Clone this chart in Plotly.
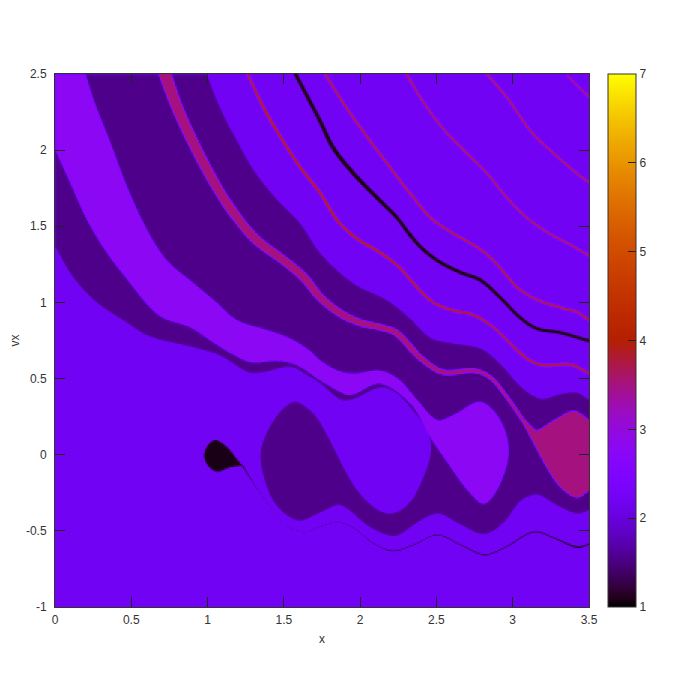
import math
import numpy as np
import plotly.graph_objects as go

# Axis ticks and labels
X_TICKS = [0, 0.5, 1, 1.5, 2, 2.5, 3, 3.5]
X_LABELS = ["0", "0.5", "1", "1.5", "2", "2.5", "3", "3.5"]
Y_TICKS = [-1, -0.5, 0, 0.5, 1, 1.5, 2, 2.5]
Y_LABELS = ["-1", "-0.5", "0", "0.5", "1", "1.5", "2", "2.5"]
CB_TICKS = [1, 2, 3, 4, 5, 6, 7]

# Region levels (z values)
Z_BACK, Z_DARK, Z_LIGHT, Z_MAGENTA, Z_RED, Z_BLACK = 2.2, 1.55, 2.8, 3.5, 4.0, 1.08

# Regions as (x, vx) boundaries
DARK_REGION = [(0.995, 2.5), (1.06, 2.33), (1.165, 2.11), (1.30, 1.87), (1.455, 1.675), (1.605, 1.52),
               (1.737, 1.325), (1.95, 1.13), (2.17, 1.02), (2.30, 0.92), (2.457, 0.77), (2.60, 0.735), (2.785, 0.70),
               (2.915, 0.60), (3.05, 0.45), (3.18, 0.37), (3.31, 0.40), (3.42, 0.41), (3.5, 0.36), (3.5, -0.36),
               (3.42, -0.385), (3.27, -0.32), (3.16, -0.26), (3.05, -0.30), (2.94, -0.44), (2.81, -0.52),
               (2.66, -0.46), (2.51, -0.385), (2.39, -0.43), (2.23, -0.53), (2.065, -0.475), (1.87, -0.33),
               (1.74, -0.375), (1.605, -0.43), (1.495, -0.38), (1.40, -0.25), (1.343, 0.01), (1.43, 0.23),
               (1.56, 0.35), (1.66, 0.30), (1.737, 0.21), (1.95, -0.19), (2.085, -0.34), (2.195, -0.385), (2.305, -0.33),
               (2.39, -0.19), (2.457, 0.01), (2.44, 0.145), (2.325, 0.315), (2.24, 0.405), (2.13, 0.445),
               (1.955, 0.37), (1.87, 0.365), (1.737, 0.47), (1.65, 0.525), (1.54, 0.58), (1.36, 0.545),
               (1.26, 0.545), (1.08, 0.655), (0.90, 0.71), (0.62, 0.78), (0.445, 0.885), (0.25, 1.02), (0.10, 1.19),
               (0.0, 1.365), (0.0, 2.5)]
LIGHT_REGION = [(0.0, 2.5), (0.197, 2.5), (0.25, 2.33), (0.36, 2.05), (0.47, 1.76), (0.60, 1.48), (0.73, 1.28),
                (0.905, 1.13), (1.06, 1.0), (1.19, 0.885), (1.39, 0.82), (1.54, 0.765), (1.66, 0.69), (1.737, 0.62),
                (1.85, 0.555), (1.955, 0.535), (2.13, 0.555), (2.26, 0.49), (2.37, 0.36), (2.50, 0.23), (2.61, 0.265),
                (2.785, 0.35), (2.915, 0.23), (2.97, 0.03), (2.915, -0.185), (2.81, -0.32), (2.70, -0.23),
                (2.57, -0.05), (2.457, 0.115), (2.325, 0.34), (2.13, 0.47), (1.955, 0.40), (1.90, 0.40), (1.737, 0.49),
                (1.585, 0.59), (1.455, 0.62), (1.28, 0.61), (1.15, 0.67), (1.015, 0.755), (0.885, 0.84), (0.71, 0.90),
                (0.62, 0.97), (0.49, 1.13), (0.34, 1.325), (0.21, 1.54), (0.10, 1.78), (0.0, 2.0)]
MAGENTA_REGION = [(3.065, 0.21), (3.13, 0.165), (3.165, 0.165), (3.27, 0.23), (3.40, 0.29), (3.5, 0.23), (3.5, -0.23),
                  (3.42, -0.28), (3.31, -0.21), (3.22, -0.08), (3.115, 0.115)]
BLACK_BLOB = [(1.05, 0.10), (1.13, 0.05), (1.18, -0.015), (1.225, -0.07), (1.15, -0.08), (1.06, -0.11), (1.0, -0.07),
              (0.975, -0.005), (0.995, 0.06)]
# Points that stay sharp when a boundary is drawn: plot-edge corners
SHARP = {(0.995, 2.5), (3.5, 0.36), (3.5, -0.36), (0.0, 1.365), (0.0, 2.5), (0.197, 2.5), (0.0, 2.0),
         (3.5, 0.23), (3.5, -0.23), (1.225, -0.07), (3.065, 0.21)}

# Curves as (x, vx, half width in data units)
MAGENTA_BAND = [(0.72, 2.5, .04), (0.80, 2.28, .036), (0.93, 2.0, .034), (1.06, 1.76, .032), (1.19, 1.56, .03),
                (1.32, 1.41, .03), (1.495, 1.28, .028), (1.625, 1.17, .028), (1.737, 1.035, .025), (1.87, 0.93, .024),
                (2.0, 0.87, .022), (2.13, 0.84, .02), (2.24, 0.80, .02), (2.39, 0.64, .018), (2.54, 0.545, .016),
                (2.74, 0.555, .014), (2.85, 0.51, .012), (2.96, 0.38, .011), (3.065, 0.23, .012), (3.13, 0.15, .02)]
BLACK_LINE = [(1.575, 2.5, .012), (1.737, 2.19, .013), (1.82, 2.02, .014), (1.955, 1.85, .014), (2.11, 1.69, .013),
              (2.24, 1.56, .012), (2.37, 1.39, .012), (2.50, 1.28, .012), (2.655, 1.20, .012), (2.785, 1.15, .012),
              (2.915, 1.035, .011), (3.05, 0.90, .011), (3.16, 0.83, .011), (3.31, 0.805, .011), (3.5, 0.75, .011)]
RED_LINE_1 = [(1.26, 2.5, .007), (1.365, 2.28, .009), (1.475, 2.09, .009), (1.605, 1.89, .009), (1.737, 1.72, .009),
              (1.85, 1.54, .009), (1.98, 1.42, .009), (2.13, 1.33, .009), (2.26, 1.23, .008), (2.37, 1.10, .008),
              (2.48, 1.0, .008), (2.61, 0.95, .008), (2.74, 0.92, .008), (2.87, 0.84, .007), (2.96, 0.755, .007),
              (3.09, 0.635, .008), (3.2, 0.59, .008), (3.375, 0.595, .008), (3.5, 0.535, .007)]
RED_LINE_2 = [(1.77, 2.5, .007), (1.89, 2.31, .007), (2.045, 2.09, .007), (2.195, 1.89, .007), (2.325, 1.72, .007),
              (2.457, 1.56, .007), (2.61, 1.455, .007), (2.765, 1.365, .007), (2.87, 1.28, .007), (3.03, 1.10, .007),
              (3.16, 1.02, .007), (3.31, 0.97, .007), (3.42, 0.94, .007), (3.5, 0.885, .007)]
RED_LINE_3 = [(2.305, 2.5, .006), (2.39, 2.35, .006), (2.54, 2.145, .006), (2.70, 1.98, .006), (2.83, 1.85, .006),
              (2.96, 1.69, .006), (3.09, 1.56, .006), (3.24, 1.455, .006), (3.39, 1.375, .006), (3.5, 1.31, .006)]
RED_LINE_4 = [(2.83, 2.5, .006), (2.96, 2.35, .006), (3.115, 2.13, .006), (3.27, 1.98, .006), (3.42, 1.85, .006),
              (3.5, 1.79, .006)]
RED_LINE_5 = [(3.36, 2.49, .005), (3.5, 2.35, .005)]
BLACK_TAIL = [(1.225, -0.07, .005), (1.30, -0.19, .001), (1.39, -0.32, -.002), (1.495, -0.45, -.002), (1.625, -0.505, -.001),
              (1.737, -0.47, -.001), (1.85, -0.44, 0), (1.955, -0.48, 0), (2.085, -0.58, .001), (2.215, -0.63, .003),
              (2.345, -0.59, .002), (2.50, -0.525, .002), (2.655, -0.59, .003), (2.81, -0.655, .003), (2.94, -0.61, .003),
              (3.135, -0.505, .004), (3.27, -0.545, .004), (3.42, -0.605, .006), (3.5, -0.585, .004)]

NX, NY = 356, 356
x = np.linspace(0, 3.5, NX)
y = np.linspace(-1, 2.5, NY)
XX, YY = np.meshgrid(x, y)
CELL = 3.5 / (NX - 1)
SS = 3
sx = (np.arange(NX * SS) + 0.5) / (NX * SS) * (3.5 + CELL) - CELL / 2
sy = (np.arange(NY * SS) + 0.5) / (NY * SS) * (3.5 + CELL) - CELL / 2 - 1


def spline(pts, steps=8):
    """Smooth curve through the points that were read (Hermite with chord-scaled tangents)."""
    p = np.array(pts, dtype=float)
    if len(p) < 3:
        return p
    d = np.maximum(np.hypot(*(p[1:, :2] - p[:-1, :2]).T), 1e-6)
    m = np.zeros_like(p)
    m[1:-1] = (p[2:] - p[:-2]) / (d[:-1] + d[1:])[:, None]
    m[0] = (p[1] - p[0]) / d[0]
    m[-1] = (p[-1] - p[-2]) / d[-1]
    out = [p[0]]
    for i in range(len(p) - 1):
        for s in np.linspace(0, 1, steps + 1)[1:]:
            h00 = 2 * s**3 - 3 * s**2 + 1
            h10 = s**3 - 2 * s**2 + s
            h01 = -2 * s**3 + 3 * s**2
            h11 = s**3 - s**2
            out.append(h00 * p[i] + h10 * d[i] * m[i] + h01 * p[i + 1] + h11 * d[i] * m[i + 1])
    return np.array(out)


def smooth_polygon(poly):
    n = len(poly)
    starts = [i for i, q in enumerate(poly) if q in SHARP]
    if not starts:  # closed curve with no corner: wrap around for tangents
        wrapped = poly[-3:] + poly + poly[:4]
        s = spline(wrapped)
        return s[3 * 8: (3 + n) * 8 + 1]
    rings = []
    for a, b in zip(starts, starts[1:] + [starts[0] + n]):
        seg = [poly[k % n] for k in range(a, b + 1)]
        rings.append(spline(seg)[:-1])
    return np.vstack(rings)


def coverage_poly(poly):
    p = smooth_polygon(poly)
    res = np.zeros((NY * SS, NX * SS), dtype=bool)
    for (x0, y0), (x1, y1) in zip(p, np.roll(p, -1, axis=0)):
        if y0 == y1:
            continue
        rows = np.where((sy > min(y0, y1)) & (sy <= max(y0, y1)))[0]
        for r in rows:
            cross = (x1 - x0) * (sy[r] - y0) / (y1 - y0) + x0
            res[r, sx < cross] ^= True
    return res.reshape(NY, SS, NX, SS).mean(axis=(1, 3))


def coverage_curve(curve):
    c = spline(curve)
    best = np.zeros(XX.shape)
    for (x0, y0, w0), (x1, y1, w1) in zip(c[:-1], c[1:]):
        dx, dy = x1 - x0, y1 - y0
        pad = max(w0, w1) + 2 * CELL
        ix = np.where((x >= min(x0, x1) - pad) & (x <= max(x0, x1) + pad))[0]
        iy = np.where((y >= min(y0, y1) - pad) & (y <= max(y0, y1) + pad))[0]
        if len(ix) == 0 or len(iy) == 0:
            continue
        gx, gy = np.meshgrid(x[ix], y[iy])
        t = np.clip(((gx - x0) * dx + (gy - y0) * dy) / (dx * dx + dy * dy + 1e-12), 0, 1)
        dist = np.hypot(gx - (x0 + t * dx), gy - (y0 + t * dy))
        a = np.clip((w0 + t * (w1 - w0) - dist) / CELL + 0.5, 0, 1)
        best[np.ix_(iy, ix)] = np.maximum(best[np.ix_(iy, ix)], a)
    return best


z = np.full(XX.shape, Z_BACK)
for poly, level in [(DARK_REGION, Z_DARK), (LIGHT_REGION, Z_LIGHT), (MAGENTA_REGION, Z_MAGENTA), (BLACK_BLOB, Z_BLACK)]:
    a = coverage_poly(poly)
    z = z * (1 - a) + level * a
for curve, level in [(MAGENTA_BAND, Z_MAGENTA), (BLACK_LINE, Z_BLACK), (RED_LINE_1, Z_RED), (RED_LINE_2, Z_RED),
                     (RED_LINE_3, Z_RED), (RED_LINE_4, Z_RED), (RED_LINE_5, Z_RED), (BLACK_TAIL, Z_BLACK)]:
    a = coverage_curve(curve)
    z = z * (1 - a) + level * a
z = np.round(z, 2)

# gnuplot default palette
scale = []
for i in range(61):
    t = i / 60
    r = math.sqrt(t)
    g = t ** 3
    b = max(0.0, math.sin(2 * math.pi * t))
    scale.append([t, f"rgb({round(r * 255)},{round(g * 255)},{round(b * 255)})"])

FONT = dict(family="Liberation Sans, Arial, sans-serif", size=12, color="#333333")
fig = go.Figure(go.Heatmap(
    x=x, y=y, z=z, zmin=1, zmax=7, zsmooth="best", colorscale=scale, hoverinfo="skip",
    colorbar=dict(x=(608 - 55) / 534, xanchor="left", xpad=0, ypad=0, y=0, yanchor="bottom", len=1, lenmode="fraction",
                  thickness=28, thicknessmode="pixels", tickvals=CB_TICKS, ticks="inside", ticklen=8,
                  tickcolor="#222222", tickwidth=1, outlinecolor="#333333", outlinewidth=1, tickfont=FONT),
))
axis = dict(ticks="inside", ticklen=10, tickcolor="#222222", tickwidth=1, showline=True, linecolor="#333333",
            linewidth=1, mirror="ticks", showgrid=False, zeroline=False, tickfont=FONT, automargin=False)
fig.update_xaxes(range=[0, 3.5], tickvals=X_TICKS, ticktext=X_LABELS, ticklabelstandoff=2,
                 title=dict(text="x", font=FONT, standoff=8), **axis)
fig.update_yaxes(range=[-1, 2.5], tickvals=Y_TICKS, ticktext=Y_LABELS, ticklabelstandoff=5,
                 title=dict(text="vx", font=FONT, standoff=10), **axis)
# colour box ticks also start from its left side
for v in CB_TICKS[1:-1]:
    fig.add_shape(type="line", xref="paper", yref="y", x0=(608 - 55) / 534, x1=(616 - 55) / 534,
                  y0=-1 + (v - 1) * 3.5 / 6, y1=-1 + (v - 1) * 3.5 / 6, line=dict(color="#222222", width=1))
# the page body adds 8 px on each side
fig.update_layout(width=662, height=661, margin=dict(l=47, r=81, t=66, b=62), paper_bgcolor="white",
                  plot_bgcolor="white", showlegend=False)
fig.write_html("out.html")
